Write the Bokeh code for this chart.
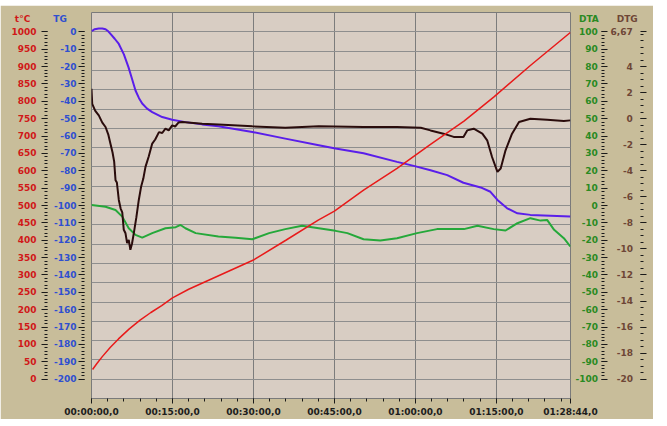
from bokeh.plotting import figure
from bokeh.models import Range1d, LinearAxis, FixedTicker, Grid, Spacer
from bokeh.layouts import column
from bokeh.embed import file_html
from bokeh.resources import INLINE

# ---------------- data (time in minutes) ----------------
temp_t = [0.2, 1, 2, 3.5, 5, 7, 9, 11, 13, 15, 18, 22, 26, 30, 36, 42, 45, 50.4, 56.6, 62.8, 69, 74.5, 81.3, 88.7]
temp_v = [28, 45, 65, 92, 116, 145, 170, 192, 212, 234, 259, 287, 315, 343, 400, 458, 484, 544, 607, 676, 743, 812, 903, 998]

tg_t = [0, 0.6, 1.35, 2.0, 2.6, 3.1, 3.6, 4.3, 5.06, 6.0, 6.86, 7.5, 8.15, 8.8, 9.39, 10.3, 11.25, 13.1, 14.95,
        17.4, 20.5, 23.5, 29.8, 35.9, 42.1, 45.2, 50.4, 56.6, 59.7, 62.8, 65.9, 68.9, 72.1, 73.9, 75.2, 77.0,
        78.9, 81.3, 88.7]
tg_v = [0.3, 1.5, 1.9, 1.9, 1.5, 0.3, -1.5, -4.0, -7.0, -13, -20.5, -27, -33.8, -38.2, -41.3, -44.2, -46.2,
        -49.1, -50.6, -52.0, -53.3, -54.4, -57.7, -61.5, -65.3, -67.2, -69.9, -74.9, -77.2, -79.7, -82.5, -86.9,
        -89.6, -92.1, -96.8, -101.6, -104.5, -105.4, -106.4]

dta_t = [0, 2.6, 4.45, 5.7, 6.9, 8.15, 9.4, 11.25, 13.7, 15.6, 16.5, 17.4, 19.3, 23.5, 26.7, 29.8, 32.9, 35.9,
         39.0, 42.1, 45.2, 47.4, 50.4, 53.5, 56.6, 60.3, 64.0, 69.0, 71.5, 74.5, 76.7, 78.9, 81.3, 83.2, 84.4,
         85.7, 87.5, 88.7]
dta_v = [0.3, -0.7, -2.6, -6.4, -13.1, -16.9, -18.5, -15.9, -13.1, -12.5, -11.2, -13.1, -15.9, -17.9, -18.5,
         -19.4, -15.9, -13.6, -11.7, -13.1, -14.6, -15.9, -19.4, -20.2, -18.8, -15.9, -13.6, -13.6, -11.7, -13.6,
         -14.4, -10.2, -7.3, -8.7, -8.3, -14.0, -18.8, -23.6]

dtg_t = [0, 0.13, 0.7, 1.35, 2.0, 2.6, 3.1, 3.5, 3.9, 4.2, 4.45, 4.7, 5.06, 5.4, 5.7, 5.98, 6.3, 6.6, 6.9, 7.2,
         7.5, 7.84, 8.3, 8.76, 9.2, 9.6, 10.0, 10.6, 11.25, 11.8, 12.5, 13.1, 13.7, 14.3, 14.95, 15.5, 16.1, 16.8,
         20.5, 23.5, 29.8, 35.9, 42.1, 50.4, 56.6, 61.0, 62.8, 65.2, 67.1, 68.9, 69.6, 70.8, 72.4, 73.3, 74.2,
         75.2, 75.8, 76.7, 77.9, 79.2, 81.3, 84.4, 87.5, 88.7]
dtg_v = [2.3, 1.14, 0.6, 0.25, -0.3, -0.64, -1.2, -1.9, -2.6, -3.3, -4.72, -4.9, -6.24, -6.9, -7.2, -8.53, -8.8,
         -9.55, -9.3, -10.07, -9.6, -8.79, -7.6, -6.24, -5.2, -4.6, -3.70, -2.9, -1.91, -1.6, -1.03, -1.1, -0.77,
         -0.9, -0.51, -0.6, -0.3, -0.26, -0.38, -0.44, -0.59, -0.69, -0.59, -0.64, -0.64, -0.69, -0.9, -1.15,
         -1.4, -1.4, -0.9, -0.77, -1.15, -1.66, -2.94, -4.08, -3.82, -2.43, -1.15, -0.26, 0.0, -0.08, -0.18, -0.13]

# axis ticks / labels
x_ticks_s = [0, 900, 1800, 2700, 3600, 4500, 5324]
x_labels = ["00:00:00,0", "00:15:00,0", "00:30:00,0", "00:45:00,0", "01:00:00,0", "01:15:00,0", "01:28:44,0"]
temp_ticks = list(range(0, 1001, 50))
tg_ticks = list(range(-200, 1, 10))
dta_ticks = list(range(-100, 101, 10))
dtg_ticks = list(range(-20, 5, 2)) + [6.67]
dtg_labels = [str(v) for v in range(-20, 5, 2)] + ["6,67"]
titles = {"temp": "t°C", "tg": "TG", "dta": "DTA", "dtg": "DTG"}

# ---------------- helpers ----------------
FIG = "\u2007"
PUN = "\u2008"
CW = {"-": 0.415, ",": 0.38}


def cwidth(s):
    return sum(CW.get(c, 0.696) for c in s)


def rpad(labels):
    m = max(cwidth(s) for s in labels)
    out = []
    for s in labels:
        d = m - cwidth(s)
        pad = ""
        while d > 0.55:
            pad += FIG
            d -= 0.696
        if d > 0.19:
            pad += PUN
        out.append(pad + s)
    return out


FONT = "DejaVu Sans"
TICK_C = "#1A1A1A"

TSPAN = 1000.0
GSTEP = TSPAN / 18.0
FRAME_H = 387
TITLE_T = TSPAN + GSTEP - 7 / (FRAME_H / (TSPAN + 2 * GSTEP))   # title row, in t°C units


def from_temp(v, lo, hi):
    return lo + (hi - lo) * v / TSPAN


p = figure(width=653, height=414,
           x_range=Range1d(0, 5324), y_range=Range1d(-GSTEP, TSPAN + GSTEP),
           x_axis_type=None, y_axis_type=None,
           output_backend="svg", toolbar_location=None,
           min_border_left=91, min_border_right=83, min_border_top=7, min_border_bottom=20,
           background_fill_color="#D8CDC3", border_fill_color="#C8BD9A",
           outline_line_color="#7A7A7A")

p.extra_y_ranges = {
    "tg": Range1d(from_temp(-GSTEP, -200, 0), from_temp(TSPAN + GSTEP, -200, 0)),
    "dta": Range1d(from_temp(-GSTEP, -100, 100), from_temp(TSPAN + GSTEP, -100, 100)),
    "dtg": Range1d(from_temp(-GSTEP, -20, 6.67), from_temp(TSPAN + GSTEP, -20, 6.67)),
}


def style(ax, color, tick_out, minor_out, standoff, size="9px"):
    ax.axis_line_color = None
    ax.major_tick_line_color = TICK_C if tick_out > 0 else None
    ax.minor_tick_line_color = TICK_C if minor_out > 0 else None
    ax.major_tick_out = tick_out
    ax.major_tick_in = 0
    ax.minor_tick_out = minor_out
    ax.minor_tick_in = 0
    ax.major_label_standoff = standoff
    ax.major_label_text_font = FONT
    ax.major_label_text_font_style = "bold"
    ax.major_label_text_font_size = size
    ax.major_label_text_color = color


def add_axis(side, rng, ticks, minor=(), labels=None, color=None, tick_out=0, minor_out=0, standoff=0):
    kw = {"y_range_name": rng} if rng else {}
    ax = LinearAxis(ticker=FixedTicker(ticks=list(ticks), minor_ticks=list(minor)), **kw)
    if labels is not None:
        ax.major_label_overrides = dict(zip(ticks, labels))
        style(ax, color, tick_out, minor_out, standoff)
    else:
        style(ax, None, tick_out, minor_out, 0, size="0px")
    p.add_layout(ax, side)
    return ax


# x axis
xt = FixedTicker(ticks=x_ticks_s, minor_ticks=[i * 180 for i in range(0, 30)])
xax = LinearAxis(ticker=xt, major_label_overrides=dict(zip(x_ticks_s, x_labels)))
style(xax, "#1C1C1C", 5, 3, 3)
p.add_layout(xax, "below")

# grids
p.add_layout(Grid(dimension=0, ticker=xt, grid_line_color="#7C7C7C", grid_line_width=1))
p.add_layout(Grid(dimension=1, ticker=FixedTicker(ticks=[GSTEP * k for k in range(-1, 20)]),
                  grid_line_color="#8E8E8E", grid_line_width=1))

# ---- left side (from the frame outwards): gap, TG ticks, TG labels, t°C ticks, t°C labels
RED, BLUE, GREEN, BROWN = "#D01818", "#2F4FD0", "#2A8A22", "#6E4636"

gap = add_axis("left", None, [500], tick_out=7)
gap.major_tick_line_color = None

add_axis("left", "tg", tg_ticks, minor=range(-200, 1, 2), tick_out=6, minor_out=3)
tg_title = from_temp(TITLE_T, -200, 0)
add_axis("left", "tg", tg_ticks + [tg_title],
         labels=[PUN + s for s in rpad([str(v) for v in tg_ticks])] + [titles["tg"] + FIG + PUN],
         color=BLUE, standoff=2)

add_axis("left", None, temp_ticks, minor=range(0, 1001, 10), tick_out=6, minor_out=3)
add_axis("left", None, temp_ticks + [TITLE_T],
         labels=[str(v) for v in temp_ticks] + [titles["temp"] + FIG],
         color=RED, standoff=5)

# ---- right side: DTA labels, DTA ticks, DTG labels, DTG ticks
dta_title = from_temp(TITLE_T, -100, 100)
add_axis("right", "dta", dta_ticks + [dta_title],
         labels=rpad([str(v) for v in dta_ticks]) + [PUN + titles["dta"]],
         color=GREEN, standoff=5)
add_axis("right", "dta", dta_ticks, minor=range(-100, 101, 2), tick_out=6, minor_out=3)

dtg_title = from_temp(TITLE_T, -20, 6.67)
add_axis("right", "dtg", dtg_ticks + [dtg_title],
         labels=rpad(dtg_labels) + [FIG + titles["dtg"]],
         color=BROWN, standoff=3)
add_axis("right", "dtg", dtg_ticks, minor=[-20 + 0.5 * i for i in range(0, 54)], tick_out=6, minor_out=3)


# curves
def secs(ts):
    return [t * 60 for t in ts]


p.line(secs(dta_t), dta_v, y_range_name="dta", line_color="#25A83A", line_width=2)
p.line(secs(tg_t), tg_v, y_range_name="tg", line_color="#5A1EEA", line_width=2)
p.line(secs(dtg_t), dtg_v, y_range_name="dtg", line_color="#2A0C0C", line_width=2)
p.line(secs(temp_t), temp_v, line_color="#E81A1A", line_width=1.5)

page = column(Spacer(width=653, height=5), p)
open("out.html", "w").write(file_html(page, INLINE))
